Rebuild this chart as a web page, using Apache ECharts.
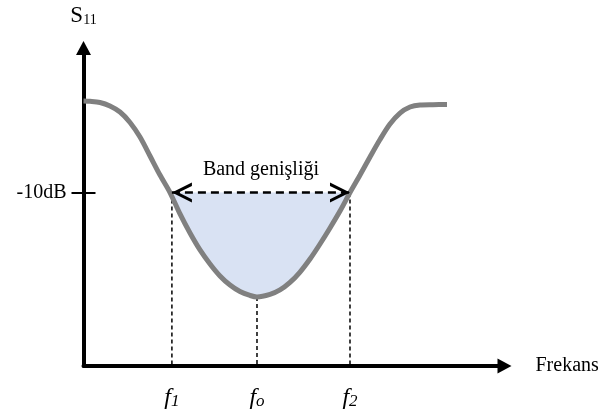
<!DOCTYPE html>
<html>
<head>
<meta charset="utf-8">
<script src="https://cdn.jsdelivr.net/npm/echarts@6/dist/echarts.min.js"></script>
<style>
  html, body { margin: 0; padding: 0; background: #fff; }
  #chart { width: 602px; height: 417px; }
</style>
</head>
<body>
<div id="chart"></div>
<script>
// S11 curve (x: relative frequency 0..100, y: dB)
const freq = [0, 1.54, 3.92, 6.29, 8.67, 11.05, 13.42, 15.80, 18.17, 20.55, 22.92, 25.30, 27.67, 30.05, 32.42, 34.80, 37.17, 39.55, 41.21,
  44.30, 46.67, 49.05, 51.43, 53.80, 56.18, 58.55, 60.93, 63.30, 65.68, 68.05, 70.43, 72.80, 75.18, 77.55, 79.93, 83.01, 86.34];
const s11 = [-3.67, -3.69, -3.77, -4.01, -4.43, -5.15, -6.16, -7.47, -8.79, -10.0, -11.48, -12.80, -13.97, -14.94, -15.77, -16.40, -16.85, -17.12, -17.23,
  -17.05, -16.74, -16.22, -15.50, -14.60, -13.56, -12.45, -11.28, -10.0, -8.79, -7.54, -6.33, -5.26, -4.50, -4.08, -3.94, -3.92, -3.91];
const bandLevel = -10;
const markFreqs = [21.0, 41.21, 63.3];   // f1, fo, f2
const markSubs = ['1', 'o', '2'];
const bandLabel = 'Band genişliği';
const xRange = [0, 100];
const yRange = [-22, 0];

const serif = 'Liberation Serif';
const curve = freq.map((x, i) => [x, s11[i]]);
const bandPart = curve.filter(p => p[1] <= bandLevel);
const minLevel = Math.min(...s11);
// chevron pointing up, tip sits in the middle of the symbol box
const chevron = 'path://M10,-20 M0,20 L10,0 L20,20 L16.6,20 L10,6.7 L3.4,20 Z';

const chart = echarts.init(document.getElementById('chart'));

// dashed drop lines from the curve down to the frequency axis
const dropLines = markFreqs.map((x, k) => ({
  type: 'line',
  data: [[x, k === 1 ? minLevel : bandLevel], [x, yRange[0]]],
  showSymbol: false,
  silent: true,
  lineStyle: { color: '#000', width: 1.5, type: [4, 3] },
  z: 2
}));

chart.setOption({
  animation: false,
  grid: { left: 83.5, right: 97.5, top: 48, bottom: 51, outerBoundsMode: 'none' },
  xAxis: {
    type: 'value',
    min: xRange[0],
    max: xRange[1],
    name: 'Frekans',
    nameLocation: 'end',
    nameGap: 31,
    nameTextStyle: { fontFamily: serif, fontSize: 20, color: '#000', verticalAlign: 'middle' },
    axisLine: { onZero: false, lineStyle: { color: '#000', width: 4 }, symbol: ['none', 'triangle'], symbolSize: [15, 14] },
    axisTick: { show: false },
    splitLine: { show: false },
    axisLabel: {
      customValues: markFreqs,
      margin: 20,
      formatter: v => {
        const k = markFreqs.indexOf(v);
        return '{f|f}{s|' + markSubs[k] + '}';
      },
      rich: {
        f: { fontFamily: serif, fontStyle: 'italic', fontSize: 24, color: '#000', verticalAlign: 'bottom', lineHeight: 24 },
        s: { fontFamily: serif, fontStyle: 'italic', fontSize: 17, color: '#000', verticalAlign: 'bottom', lineHeight: 14 }
      }
    }
  },
  yAxis: [{
    type: 'value',
    min: yRange[0],
    max: yRange[1],
    name: '{s|S}{n|11}',
    nameLocation: 'end',
    nameGap: 21,
    nameTextStyle: {
      rich: {
        s: { fontFamily: serif, fontSize: 23, color: '#000', verticalAlign: 'bottom', lineHeight: 22 },
        n: { fontFamily: serif, fontSize: 14, color: '#000', verticalAlign: 'bottom', lineHeight: 12 }
      }
    },
    axisLine: { onZero: false, lineStyle: { color: '#000', width: 4 }, symbol: ['none', 'triangle'], symbolSize: [15, 14] },
    axisTick: { customValues: [bandLevel], length: 12, lineStyle: { color: '#000', width: 2 } },
    axisLabel: {
      customValues: [bandLevel],
      margin: 17,
      formatter: v => v + 'dB',
      fontFamily: serif, fontSize: 20, color: '#000'
    },
    splitLine: { show: false }
  }, {
    type: 'value',
    min: yRange[0],
    max: yRange[1],
    position: 'left',
    axisLine: { show: false },
    axisTick: { inside: true, customValues: [bandLevel], length: 12, lineStyle: { color: '#000', width: 2 } },
    axisLabel: { show: false },
    splitLine: { show: false }
  }],
  series: [{
    type: 'line',
    data: bandPart,
    smooth: 0.3,
    showSymbol: false,
    silent: true,
    lineStyle: { width: 0 },
    areaStyle: { color: '#d9e2f3', opacity: 1, origin: bandLevel },
    z: 1
  },
  ...dropLines,
  {
    type: 'line',
    data: curve,
    smooth: 0.3,
    showSymbol: false,
    silent: true,
    lineStyle: { color: '#808080', width: 5 },
    z: 3,
    markLine: {
      silent: true,
      symbol: [chevron, chevron],
      symbolSize: [20, 40],
      lineStyle: { color: '#000', width: 2.5, type: [8, 5] },
      label: {
        show: true,
        position: 'insideMiddleTop',
        distance: 13,
        formatter: bandLabel,
        fontFamily: serif, fontSize: 20, color: '#000'
      },
      data: [[{ coord: [markFreqs[0], bandLevel] }, { coord: [markFreqs[2], bandLevel] }]],
      z: 4
    }
  }]
});
</script>
</body>
</html>
